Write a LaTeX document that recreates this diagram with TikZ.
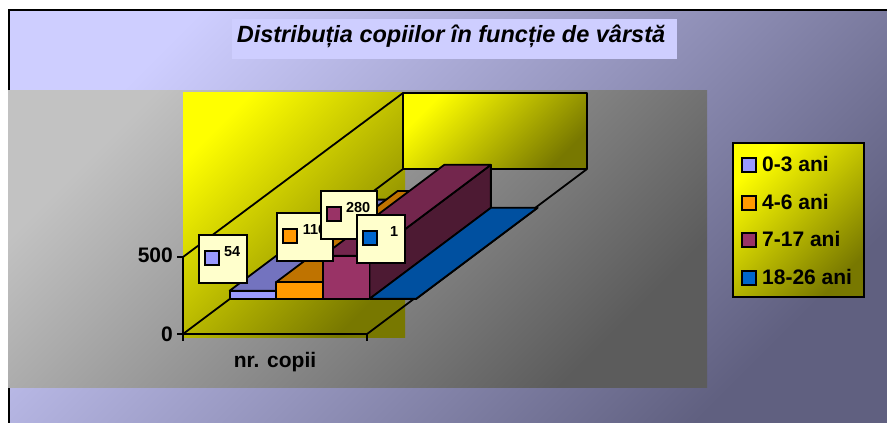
\documentclass[tikz,border=0pt]{standalone}
\usepackage{fontspec}
\setmainfont{Liberation Sans}
\definecolor{bgA}{RGB}{206,206,255}
\definecolor{bgB}{RGB}{96,96,128}
\definecolor{grA}{RGB}{194,194,194}
\definecolor{grB}{RGB}{92,92,92}
\definecolor{ylA}{RGB}{255,255,0}
\definecolor{ylB}{RGB}{120,120,0}
\definecolor{lavF}{RGB}{153,153,255}
\definecolor{lavT}{RGB}{115,115,191}
\definecolor{lavS}{RGB}{77,77,128}
\definecolor{orF}{RGB}{255,153,0}
\definecolor{orT}{RGB}{191,115,0}
\definecolor{orS}{RGB}{128,77,0}
\definecolor{mgF}{RGB}{153,51,102}
\definecolor{mgT}{RGB}{115,38,77}
\definecolor{mgS}{RGB}{77,26,51}
\definecolor{blF}{RGB}{0,102,204}
\definecolor{blT}{RGB}{0,80,160}
\definecolor{blS}{RGB}{0,51,102}
\definecolor{lblfill}{RGB}{255,255,204}
\definecolor{titlefill}{RGB}{206,206,255}
\tikzset{
  blk/.style={draw=black, line width=1.8pt, line join=round},
  lblbox/.style={draw=black, fill=lblfill, line width=1.5pt},
  mkbox/.style={draw=black, line width=1.3pt},
  valtxt/.style={font=\fontsize{14.5}{16}\selectfont\bfseries, inner sep=0pt, anchor=base east},
  axtxt/.style={font=\fontsize{21}{24}\selectfont\bfseries, inner sep=0pt},
  legtxt/.style={font=\fontsize{21}{24}\selectfont\bfseries, inner sep=0pt, anchor=base west},
  ttl/.style={font=\fontsize{23.5}{27}\selectfont\bfseries\itshape, inner sep=0pt, anchor=base},
  yshade/.style={top color=ylA, bottom color=ylB, shading angle=45},
}
% bar: x0 x1 value front top side
\newcommand\barbox[6]{%
  \filldraw[fill=#6,blk] (#2,0,0.212) -- (#2,0,0.764) -- (#2,#3,0.764) -- (#2,#3,0.212) -- cycle;
  \filldraw[fill=#5,blk] (#1,#3,0.212) -- (#2,#3,0.212) -- (#2,#3,0.764) -- (#1,#3,0.764) -- cycle;
  \filldraw[fill=#4,blk] (#1,0,0.212) -- (#2,0,0.212) -- (#2,#3,0.212) -- (#1,#3,0.212) -- cycle;}
% value label: left top right marker-colour text name
\newcommand\vallabel[6]{%
  \filldraw[lblbox] (#1,#2) rectangle (#3,#2+48);
  \filldraw[fill=#4,mkbox] (#1+6,#2+16) rectangle (#1+20,#2+30);
  \node[valtxt] (#6) at (#3-6.5,#2+21.5) {#5};}
\begin{document}
\begin{tikzpicture}[x=1pt,y=-1pt]
\useasboundingbox (0,0) rectangle (887,423);
% outer background
\shade[top color=bgA, bottom color=bgB, shading angle=45] (9,10) rectangle (887,423);
\draw[line width=1.6pt] (9,423) -- (9,10) -- (887,10);
% title
\fill[titlefill] (232,19) rectangle (677,59);
\node[ttl] (title) at (451,42) {Distribuția copiilor în funcție de vârstă};
% plot area
\shade[top color=grA, bottom color=grB, shading angle=45] (8,90) rectangle (707,387);
% walls
\shade[yshade] (183,92) rectangle (405,337);
\shade[yshade] (403,93) rectangle (587,169);
\draw[blk] (403,93) rectangle (587,169);
\draw[blk] (183,257) -- (403,93);
\draw[blk] (183,334) -- (403,169);
\draw[blk] (183,334) -- (367,334) -- (587,169);
\draw[blk] (183,257) -- (183,334);
\draw[blk] (177,257) -- (183,257);
\draw[blk] (177,334) -- (183,334);
\draw[blk] (183,334) -- (183,341);
\draw[blk] (367,334) -- (367,341);
% bars
\begin{scope}[shift={(183,334)}]
\begin{scope}[x={(1pt,0pt)}, y={(0pt,0.154pt)}, z={(220pt,165pt)}]
\barbox{0}{46.6}{54}{lavF}{lavT}{lavS}
\barbox{46.6}{93.2}{110}{orF}{orT}{orS}
\barbox{93.2}{139.8}{280}{mgF}{mgT}{mgS}
\barbox{139.8}{186.4}{1}{blF}{blT}{blS}
\end{scope}
\end{scope}
% value labels
\vallabel{199}{235}{247}{lavF}{54}{v54}
\vallabel{277}{213}{333}{orF}{110}{v110}
\vallabel{321}{191}{377}{mgF}{280}{v280}
\vallabel{357}{215}{405}{blF}{1}{v1}
% axis labels
\node[axtxt, anchor=base east] (a500) at (173,262.5) {500};
\node[axtxt, anchor=base east] (a0) at (173,341) {0};
\node[axtxt, anchor=base] (xcat) at (275,367) {nr. copii};
% legend
\shade[yshade] (733,143) rectangle (864,297);
\draw[line width=1.5pt] (733,143) rectangle (864,297);
\filldraw[fill=lavF,mkbox] (742,158) rectangle (756,172);
\filldraw[fill=orF,mkbox] (742,196) rectangle (756,210);
\filldraw[fill=mgF,mkbox] (742,233) rectangle (756,247);
\filldraw[fill=blF,mkbox] (742,271) rectangle (756,285);
\node[legtxt] (g1) at (762,171.5) {0-3 ani};
\node[legtxt] (g2) at (762,209.5) {4-6 ani};
\node[legtxt] (g3) at (762,246.5) {7-17 ani};
\node[legtxt] (g4) at (762,284.5) {18-26 ani};
\end{tikzpicture}
\end{document}
